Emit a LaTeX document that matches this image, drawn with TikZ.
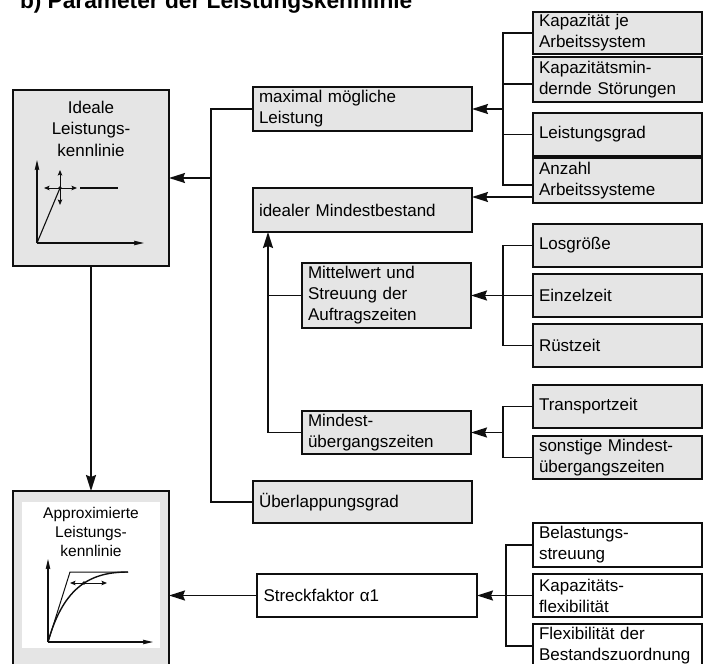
\documentclass[tikz,border=0pt]{standalone}
\usepackage{fontspec}
\setmainfont{Liberation Sans}
\usetikzlibrary{arrows.meta}
\definecolor{boxgray}{RGB}{229,229,229}
\definecolor{ink}{RGB}{15,15,15}
\newcommand\bxfont{\fontsize{17}{21}\selectfont}

\begin{document}
\begin{tikzpicture}[x=1pt,y=-1pt,
  line width=1.7pt, draw=ink,
  every node/.style={inner sep=0pt, outer sep=0pt},
  arr/.style={-{Stealth[length=16pt,width=10pt,inset=2pt]}},
  box/.style={draw=ink, fill=boxgray, line width=1.7pt, anchor=north west,
    align=left, inner xsep=6pt, font=\bxfont},
  rbox/.style={box, minimum width=169pt, text width=157pt},
  mbox/.style={box, minimum width=219pt, text width=207pt},
  wbox/.style={fill=white},
  axis/.style={line width=1.2pt, -{Stealth[length=10pt,width=4.5pt,inset=1pt]}},
  tick/.style={line width=1pt, -{Stealth[length=5.5pt,width=4.5pt,inset=1pt]}}]

\useasboundingbox (0,0) rectangle (703,663);
\clip (0,0) rectangle (703,663);

% heading
\node[anchor=base west, font=\bfseries\fontsize{22.7}{26}\selectfont] (title) at (20,9)
  {b) Parameter der Leistungskennlinie};

% left column: the two characteristic curves
\node[draw=ink, fill=boxgray, anchor=north west, minimum width=156pt, minimum height=176pt] (ideale) at (13,90) {};
\node[font=\fontsize{17}{21.5}\selectfont, align=center] (idtxt) at (91,128.5) {Ideale\\Leistungs-\\kennlinie};
\draw[axis] (37,243) -- (37,160);
\draw[axis] (37,243) -- (144,243);
\draw[line width=1.1pt] (37,243) -- (60,188);
\draw[line width=1.1pt] (80,188) -- (118,188);
\draw[tick] (60,188) -- (44,188);
\draw[tick] (60,188) -- (77,188);
\draw[tick] (60,188) -- (60,170);
\draw[tick] (60,188) -- (60,205);
\fill[ink] (60,188) circle (1.8);

\node[draw=ink, fill=boxgray, anchor=north west, minimum width=156pt, minimum height=182pt] (approx) at (13,491) {};
\fill[white] (22,502) rectangle (160,648);
\node[font=\fontsize{15.5}{19}\selectfont, align=center] (aptxt) at (91,532) {Approximierte\\Leistungs-\\kennlinie};
\draw[axis] (48,642) -- (48,559);
\draw[axis] (48,642) -- (153,642);
\draw[line width=1pt] (48,642) -- (70,572) -- (128,572);
\draw[line width=1.4pt] (48,642) .. controls (64,585) and (92,572) .. (128,572);
\draw[tick] (84,583) -- (70,583);
\draw[tick] (84,583) -- (107,583);
\fill[ink] (84,583) circle (1.8);

% middle column
\node[mbox, minimum height=44pt] (mml) at (253,87) {maximal mögliche\\Leistung};
\node[mbox, minimum height=44pt] (imb) at (253,188) {idealer Mindestbestand};
\node[rbox, minimum height=65pt] (mw) at (302,263) {Mittelwert und\\Streuung der\\Auftragszeiten};
\node[rbox, minimum height=43pt] (mind) at (302,411) {Mindest-\\übergangszeiten};
\node[mbox, minimum height=42pt] (ueb) at (253,481) {Überlappungsgrad};
\node[mbox, wbox, minimum width=220pt, minimum height=43pt] (str) at (257,574) {Streckfaktor α1};

% right column
\node[rbox, minimum height=42pt] (k1) at (533,12) {Kapazität je\\Arbeitssystem};
\node[rbox, minimum height=45pt] (k2) at (533,57) {Kapazitätsmin-\\dernde Störungen};
\node[rbox, minimum height=43pt] (k3) at (533,113) {Leistungsgrad};
\node[rbox, minimum height=45pt] (k4) at (533,158) {Anzahl\\Arbeitssysteme};
\node[rbox, minimum height=43pt] (los) at (533,224) {Losgröße};
\node[rbox, minimum height=43pt] (ein) at (533,274) {Einzelzeit};
\node[rbox, minimum height=43pt] (rue) at (533,324) {Rüstzeit};
\node[rbox, minimum height=43pt] (tra) at (533,385) {Transportzeit};
\node[rbox, minimum height=43pt] (son) at (533,436) {sonstige Mindest-\\übergangszeiten};
\node[rbox, wbox, minimum height=44pt] (bel) at (533,523) {Belastungs-\\streuung};
\node[rbox, wbox, minimum height=43pt] (kap) at (533,574) {Kapazitäts-\\flexibilität};
\node[rbox, wbox, minimum height=44pt] (flx) at (533,624) {Flexibilität der\\Bestandszuordnung};

% capacity group
\draw (k1.west) -- ++(-30,0) |- ([yshift=-4.5pt]k4.west);
\draw ([yshift=-4.5pt]k2.west) -- ++(-30,0);
\draw (k3.west) -- ++(-30,0);
\coordinate (g1) at (503,109);
\draw[arr] (g1) -- (mml.east);
\draw[arr] ([yshift=-16.5pt]k4.west) -- ([yshift=-16.5pt]k4.west -| imb.east);

% order times group
\draw (los.west) -- ++(-30,0) |- (rue.west);
\draw[arr] (ein.west) -- (mw.east);

% transition times group
\draw (tra.west) -- ++(-30,0) |- (son.west);
\draw[arr] (mind.east -| 503,0) -- (mind.east);

% stretch factor group
\draw (bel.west) -- ++(-27,0) |- (flx.west);
\draw[arr] (kap.west) -- (str.east);

% minimum inventory
\draw[arr] (mind.west) -| ([xshift=15pt]imb.south west);
\draw (mw.west) -- (mw.west -| 268,0);

% maximum output and overlap into the ideal curve
\draw (mml.west) -| (211,502) -- (ueb.west);
\coordinate (jid) at (211,178);
\draw[arr] (jid) -- (jid -| ideale.east);

% ideal to approximated curve, stretch factor
\draw[arr] (ideale.south) -- (approx.north);
\draw[arr] (str.west) -- (str.west -| approx.east);
\end{tikzpicture}
\end{document}
